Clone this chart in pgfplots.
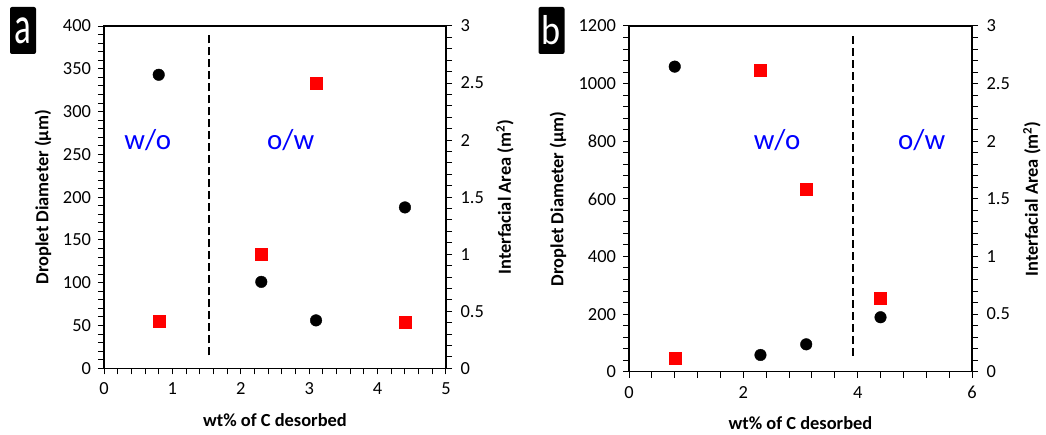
\documentclass[border=0pt]{standalone}
\usepackage{pgfplots}
\pgfplotsset{compat=1.18}
\usepackage{fontspec}
\setmainfont{Carlito}
\usepackage{graphicx}
\tikzset{tagtext/.style={blue, font=\fontsize{29}{30}\selectfont}}
\begin{document}
\begin{tikzpicture}
\path[use as bounding box] (0bp,0bp) rectangle (1046bp,435bp);
\pgfplotsset{
  base/.style={scale only axis, anchor=south west,
    /pgf/number format/assume math mode=true,
    /pgf/number format/1000 sep={},
    scaled ticks=false,
    tick label style={font=\fontsize{18.5}{20}\selectfont, black},
    label style={font=\bfseries\fontsize{18.5}{20}\selectfont, black},
    axis line style={line width=1.3bp, black},
    every tick/.style={black, line width=1bp},
    major tick length=6bp, minor tick length=6bp,
    tick align=outside, clip=false,
    xticklabel style={yshift=-5bp}},
  leftax/.style={yticklabel style={xshift=-3.5bp}},
  rightax/.style={yticklabel style={xshift=5bp}},
  diamk/.style={only marks, mark=*, mark size=5.8bp, black},
  areamk/.style={only marks, mark=square*, mark size=6bp, red, mark options={fill=red, draw=red}},
  sepline/.style={black, dash pattern=on 8bp off 4bp, line width=1.6bp}
}
% ---------------- Panel a ----------------
\begin{axis}[base, leftax, at={(104bp,66.7bp)}, width=342bp, height=342.3bp,
  xmin=0, xmax=5, ymin=0, ymax=400,
  xtick={0,1,2,3,4,5}, ytick={0,50,...,400},
  minor x tick num=4, minor y tick num=4,
  xtick pos=bottom, ytick pos=left,
  xlabel={wt\% of C desorbed}, ylabel={Droplet Diameter (µm)},
  xlabel style={at={(axis description cs:0.5,0)}, anchor=center, yshift=-52bp},
  ylabel style={at={(axis description cs:0,0.5)}, anchor=center, yshift=61bp}]
  \addplot[sepline] coordinates {(1.535,15) (1.535,390)};
  \addplot[diamk] coordinates {(0.8,343) (2.3,101) (3.1,56) (4.4,188)};
  \node[tagtext] at (axis cs:0.64,267) {w/o};
  \node[tagtext] at (axis cs:2.73,267) {o/w};
\end{axis}
\begin{axis}[base, rightax, at={(104bp,66.7bp)}, width=342bp, height=342.3bp,
  xmin=0, xmax=5, ymin=0, ymax=3,
  axis y line*=right, axis x line=none,
  ytick={0,0.5,...,3}, minor y tick num=4,
  ylabel={Interfacial Area (m\textsuperscript{2})},
  ylabel style={at={(axis description cs:1,0.5)}, anchor=center, yshift=-59bp}]
  \addplot[areamk] coordinates {(0.8,0.41) (2.3,1.0) (3.1,2.5) (4.4,0.40)};
\end{axis}
% ---------------- Panel b ----------------
\begin{axis}[base, leftax, at={(629bp,63.3bp)}, width=343bp, height=345.7bp,
  xmin=0, xmax=6, ymin=0, ymax=1200,
  xtick={0,2,4,6}, ytick={0,200,...,1200},
  minor x tick num=4, minor y tick num=4,
  xtick pos=bottom, ytick pos=left,
  xlabel={wt\% of C desorbed}, ylabel={Droplet Diameter (µm)},
  xlabel style={at={(axis description cs:0.5,0)}, anchor=center, yshift=-51bp},
  ylabel style={at={(axis description cs:0,0.5)}, anchor=center, yshift=71bp}]
  \addplot[sepline] coordinates {(3.92,55) (3.92,1169)};
  \addplot[diamk] coordinates {(0.8,1059) (2.3,58) (3.1,95) (4.4,189)};
  \node[tagtext] at (axis cs:2.59,805) {w/o};
  \node[tagtext] at (axis cs:5.12,805) {o/w};
\end{axis}
\begin{axis}[base, rightax, at={(629bp,63.3bp)}, width=343bp, height=345.7bp,
  xmin=0, xmax=6, ymin=0, ymax=3,
  axis y line*=right, axis x line=none,
  ytick={0,0.5,...,3}, minor y tick num=4,
  ylabel={Interfacial Area (m\textsuperscript{2})},
  ylabel style={at={(axis description cs:1,0.5)}, anchor=center, yshift=-60bp}]
  \addplot[areamk] coordinates {(0.8,0.12) (2.3,2.62) (3.1,1.58) (4.4,0.64)};
\end{axis}
% panel tags
\node[fill=black, rounded corners=2bp, minimum width=26bp, minimum height=47bp, inner sep=0pt, text=white]
  at (23bp,404.5bp) {\scalebox{1.25}[1.9]{\fontsize{28}{28}\selectfont a}};
\node[fill=black, rounded corners=2bp, minimum width=26bp, minimum height=47bp, inner sep=0pt, text=white]
  at (551.5bp,404.5bp) {\scalebox{1.3}[1.5]{\fontsize{28}{28}\selectfont b}};
\end{tikzpicture}
\end{document}
